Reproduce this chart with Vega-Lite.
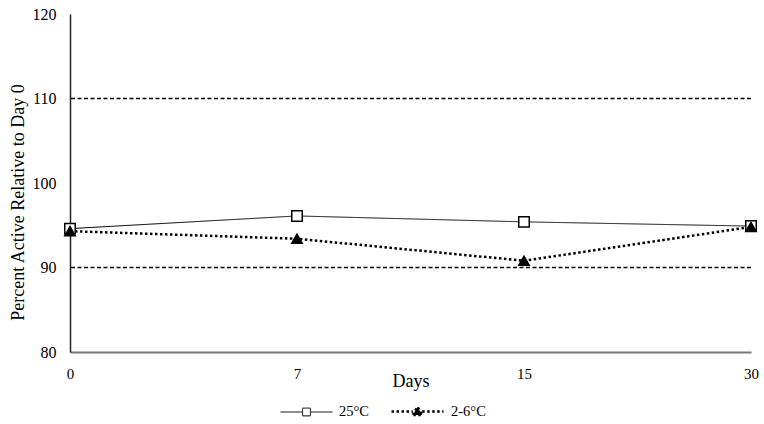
{
  "$schema": "https://vega.github.io/schema/vega-lite/v6.json",
  "width": 681,
  "height": 338,
  "autosize": "none",
  "padding": {"left": 70, "top": 14, "right": 13, "bottom": 72},
  "background": "white",
  "config": {
    "view": {"stroke": null},
    "font": "Liberation Serif",
    "style": {
      "guide-label": {"font": "Liberation Serif", "fontSize": 15, "fill": "black"},
      "guide-title": {"font": "Liberation Serif", "fontSize": 18, "fill": "black", "fontWeight": "normal"}
    },
    "axis": {"grid": false, "ticks": false},
    "axisY": {"labelFontSize": 16, "titleFontSize": 18, "labelColor": "black", "titleColor": "black", "titleFontWeight": "normal"},
    "axisX": {"labelFontSize": 15, "titleFontSize": 18, "labelColor": "black", "titleColor": "black", "titleFontWeight": "normal"},
    "legend": {"labelFont": "Liberation Serif", "labelFontSize": 14.5, "labelColor": "black", "padding": 0}
  },
  "datasets": {
    "series": [
      {"day": "0", "temp": "25°C", "pct": 94.6},
      {"day": "7", "temp": "25°C", "pct": 96.1},
      {"day": "15", "temp": "25°C", "pct": 95.4},
      {"day": "30", "temp": "25°C", "pct": 94.9},
      {"day": "0", "temp": "2-6°C", "pct": 94.3},
      {"day": "7", "temp": "2-6°C", "pct": 93.4},
      {"day": "15", "temp": "2-6°C", "pct": 90.8},
      {"day": "30", "temp": "2-6°C", "pct": 94.8}
    ],
    "limits": [{"limit": 90}, {"limit": 110}]
  },
  "layer": [
    {
      "data": {"name": "limits"},
      "mark": {"type": "rule", "color": "black", "strokeWidth": 1.5, "strokeDash": [4, 2.5]},
      "encoding": {
        "y": {"field": "limit", "type": "quantitative", "scale": {"domain": [80, 120]}}
      }
    },
    {
      "data": {"name": "series"},
      "mark": {"type": "line", "color": "black"},
      "encoding": {
        "x": {
          "field": "day", "type": "ordinal", "sort": ["0", "7", "15", "30"],
          "scale": {"type": "point", "padding": 0},
          "axis": {
            "title": "Days", "labelAngle": 0,
            "labelFontSize": 15, "titleFontSize": 18,
            "labelBaseline": "alphabetic", "labelPadding": 26,
            "titleBaseline": "alphabetic", "titleY": 34,
            "domainColor": "#777", "domainWidth": 2
          }
        },
        "y": {
          "field": "pct", "type": "quantitative",
          "scale": {"domain": [80, 120]},
          "axis": {
            "title": "Percent Active Relative to Day 0",
            "values": [80, 90, 100, 110, 120],
            "labelFontSize": 16, "titleFontSize": 18,
            "labelPadding": 14,
            "titleBaseline": "alphabetic", "titleX": -47, "titleY": 188,
            "domainColor": "#222", "domainWidth": 1.5
          }
        },
        "strokeDash": {
          "field": "temp", "type": "nominal",
          "scale": {"domain": ["25°C", "2-6°C"], "range": [[1, 0], [2.5, 2.5]]}
        },
        "strokeWidth": {
          "field": "temp", "type": "nominal",
          "scale": {"domain": ["25°C", "2-6°C"], "range": [1, 2.5]}
        }
      }
    },
    {
      "data": {"name": "series"},
      "mark": {"type": "point", "stroke": "black", "strokeWidth": 1.5, "opacity": 1, "size": 110},
      "encoding": {
        "x": {"field": "day", "type": "ordinal", "sort": ["0", "7", "15", "30"]},
        "y": {"field": "pct", "type": "quantitative"},
        "shape": {
          "condition": {"test": "datum.temp === '25°C'", "value": "square"},
          "value": "triangle-up"
        },
        "fill": {
          "condition": {"test": "datum.temp === '25°C'", "value": "white"},
          "value": "black"
        }
      }
    },
    {
      "description": "Legend key: line segment with its marker for each series",
      "data": {"name": "series"},
      "transform": [{"filter": "false"}],
      "mark": {"type": "point", "stroke": "black", "opacity": 1},
      "encoding": {
        "x": {"field": "day", "type": "ordinal", "sort": ["0", "7", "15", "30"]},
        "y": {"field": "pct", "type": "quantitative"},
        "shape": {
          "field": "temp", "type": "nominal",
          "scale": {
            "domain": ["25°C", "2-6°C"],
            "range": [
              "M-1,0H-0.15M-0.15,-0.15H0.15V0.15H-0.15ZM0.15,0H1",
              "M-1,0H-0.18M-0.18,0.13L0,-0.18L0.18,0.13ZM0.18,0H1"
            ]
          },
          "legend": {
            "title": null,
            "orient": "none",
            "direction": "horizontal",
            "legendX": 210,
            "legendY": 370,
            "symbolSize": 2704,
            "symbolOpacity": 1,
            "symbolStrokeColor": "black",
            "labelOffset": 6,
            "columnPadding": 17
          }
        },
        "fill": {
          "field": "temp", "type": "nominal",
          "scale": {"domain": ["25°C", "2-6°C"], "range": ["white", "black"]}
        },
        "strokeDash": {"field": "temp", "type": "nominal"},
        "strokeWidth": {"field": "temp", "type": "nominal"}
      }
    }
  ]
}
